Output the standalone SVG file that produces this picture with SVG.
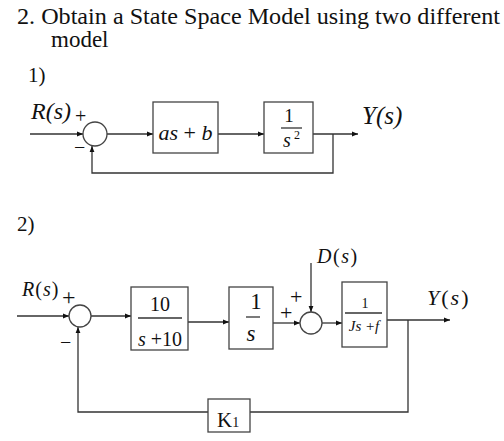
<svg xmlns="http://www.w3.org/2000/svg" width="504" height="441" viewBox="0 0 504 441">
<style>
.t{font-family:"Liberation Serif","Times New Roman",serif;fill:#111}
.i{font-style:italic}
.ln{fill:none;stroke:#333;stroke-width:1.3}
.bx{fill:#fff;stroke:#444;stroke-width:1.3}
.ar{fill:none;stroke:#333;stroke-width:1.3;marker-end:url(#ah)}
</style>
<defs>
<marker id="ah" viewBox="0 0 10 10" refX="10" refY="5" markerWidth="6" markerHeight="6" markerUnits="userSpaceOnUse" orient="auto">
<path d="M0,1 L10,5 L0,9 z" fill="#111"/>
</marker>
</defs>
<rect width="504" height="441" fill="#fff"/>
<g id="title">
<text class="t" x="17" y="24" font-size="23" textLength="483" lengthAdjust="spacingAndGlyphs">2. Obtain a State Space Model using two different</text>
<text class="t" x="51" y="47" font-size="23">model</text>
<text class="t" x="28" y="82" font-size="21">1)</text>
<text class="t" x="17" y="231" font-size="21">2)</text>
</g>
<g id="connectors">
<path class="ar" d="M30,134 H83"/>
<path class="ar" d="M107,134 H153"/>
<path class="ar" d="M218,134 H264"/>
<path class="ar" d="M313,134 H358"/>
<path class="ar" d="M333,134 V173 H92 V146"/>
<path class="ar" d="M17,316 H69"/>
<path class="ar" d="M91,316 H131"/>
<path class="ar" d="M188,322 H229"/>
<path class="ar" d="M273,323 H300"/>
<path class="ar" d="M311,263 V312"/>
<path class="ar" d="M322,323 H342"/>
<path class="ar" d="M387,320 H450"/>
<path class="ln" d="M408,320 V412 H250"/>
<path class="ar" d="M208,412 H78 V327"/>
</g>
<g id="d1-labels">
<text class="t i" x="31" y="119" font-size="24">R(s)</text>
<text class="t" x="75" y="123" font-size="20">+</text>
<text class="t" x="74" y="154" font-size="20">−</text>
<text class="t i" x="362" y="124" font-size="25">Y(s)</text>
</g>
<g id="sum1"><circle cx="95" cy="134" r="12" class="bx"/></g>
<g id="block-asb">
<rect x="153" y="102" width="65" height="51" class="bx"/>
<text class="t i" x="185.5" y="140" font-size="22" text-anchor="middle">as<tspan font-style="normal"> + </tspan>b</text>
</g>
<g id="block-1s2">
<rect x="264" y="102" width="49" height="51" class="bx"/>
<text class="t" x="289" y="122" font-size="19" text-anchor="middle">1</text>
<path class="ln" d="M281,128 H302" stroke-width="1"/>
<text class="t i" x="287" y="147" font-size="20" text-anchor="middle">s</text>
<text class="t" x="294" y="139" font-size="12">2</text>
</g>
<g id="d2-labels">
<text class="t i" x="22" y="296" font-size="20" letter-spacing="1">R<tspan font-style="normal">(</tspan>s<tspan font-style="normal">)</tspan></text>
<text class="t" x="62" y="305" font-size="24">+</text>
<text class="t" x="60" y="349" font-size="20">−</text>
<text class="t i" x="317" y="263" font-size="20" letter-spacing="1.5">D<tspan font-style="normal">(</tspan>s<tspan font-style="normal">)</tspan></text>
<text class="t" x="280" y="320" font-size="22">+</text>
<text class="t" x="290" y="304" font-size="22">+</text>
<text class="t i" x="427" y="305" font-size="22" letter-spacing="2">Y<tspan font-style="normal">(</tspan>s<tspan font-style="normal">)</tspan></text>
</g>
<g id="sum2"><circle cx="80" cy="316" r="11" class="bx"/></g>
<g id="sum3"><circle cx="311" cy="323" r="11" class="bx"/></g>
<g id="block-10">
<rect x="131" y="287" width="57" height="63" class="bx"/>
<text class="t" x="160" y="311" font-size="20" text-anchor="middle">10</text>
<path class="ln" d="M138,318 H182" stroke-width="1"/>
<text class="t" x="160" y="346" font-size="20" text-anchor="middle"><tspan font-style="italic">s</tspan> +10</text>
</g>
<g id="block-1s">
<rect x="229" y="287" width="44" height="62" class="bx"/>
<text class="t" x="256" y="309" font-size="23" text-anchor="middle">1</text>
<path class="ln" d="M246,317 H260" stroke-width="1"/>
<text class="t i" x="251" y="341" font-size="23" text-anchor="middle">s</text>
</g>
<g id="block-js">
<rect x="342" y="282" width="45" height="65" class="bx"/>
<text class="t" x="365" y="308" font-size="14" text-anchor="middle">1</text>
<path class="ln" d="M345,313 H382" stroke-width="1"/>
<text class="t i" x="364" y="331" font-size="15" text-anchor="middle">Js +f</text>
</g>
<g id="block-k1">
<rect x="208" y="399" width="42" height="33" class="bx"/>
<text class="t" x="217" y="427" font-size="21">K<tspan font-size="14">1</tspan></text>
</g>
</svg>
